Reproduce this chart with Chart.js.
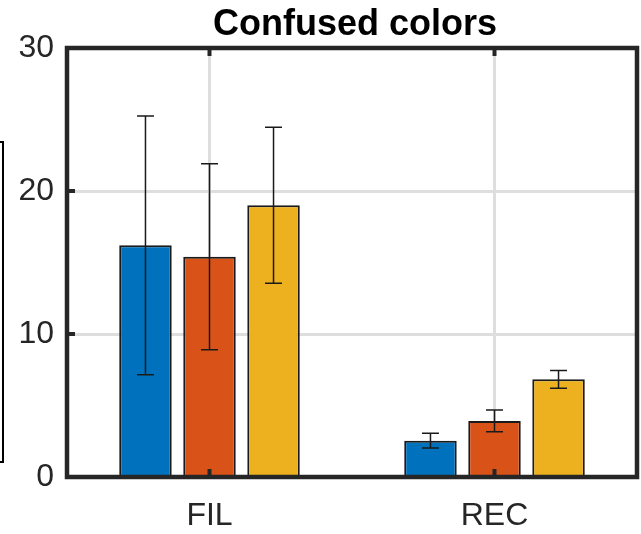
<!DOCTYPE html>
<html>
<head>
<meta charset="utf-8">
<script src="https://cdn.jsdelivr.net/npm/chart.js@4"></script>
<style>
    body { margin: 0; background: #fff; }
    #wrap { position: relative; width: 641px; height: 534px; }
    #bracket {
        position: absolute; left: 0; top: 141px; width: 2px; height: 318px;
        border: 2px solid #000; border-left: none;
    }
</style>
</head>
<body>
<div id="wrap">
    <canvas id="chart" width="641" height="534"></canvas>
    <div id="bracket"></div>
</div>
<script>
const categories = ['FIL', 'REC'];
const seriesColors = ['#0072BD', '#D95319', '#EDB120'];
const blueValues = [16.2, 2.54];
const orangeValues = [15.4, 3.92];
const yellowValues = [19.0, 6.83];
const blueErrors = [9.05, 0.52];
const orangeErrors = [6.5, 0.76];
const yellowErrors = [5.45, 0.62];
const yTicks = [0, 10, 20, 30];
const titleText = 'Confused colors';

const allValues = [blueValues, orangeValues, yellowValues];
const allErrors = [blueErrors, orangeErrors, yellowErrors];
const fontFamily = 'Liberation Sans, Arial, sans-serif';

// 誤差棒
const errorBarPlugin = {
    id: 'errorBars',
    afterDatasetsDraw(chart) {
        const ctx = chart.ctx;
        const yScale = chart.scales.y;
        ctx.save();
        ctx.strokeStyle = '#1a1a1a';
        ctx.lineWidth = 1.5;
        chart.data.datasets.forEach((ds, i) => {
            const meta = chart.getDatasetMeta(i);
            meta.data.forEach((bar, j) => {
                const v = ds.data[j];
                const e = allErrors[i][j];
                const top = yScale.getPixelForValue(v + e);
                const bot = yScale.getPixelForValue(v - e);
                const half = 8.5;
                ctx.beginPath();
                ctx.moveTo(bar.x, top); ctx.lineTo(bar.x, bot);
                ctx.moveTo(bar.x - half, top); ctx.lineTo(bar.x + half, top);
                ctx.moveTo(bar.x - half, bot); ctx.lineTo(bar.x + half, bot);
                ctx.stroke();
            });
        });
        ctx.restore();
    }
};

// 軸の枠、内向きの目盛り、タイトル
const boxPlugin = {
    id: 'axisBox',
    afterDraw(chart) {
        const ctx = chart.ctx;
        const a = chart.chartArea;
        ctx.save();
        ctx.strokeStyle = '#262626';
        ctx.lineWidth = 4.5;
        ctx.strokeRect(a.left, a.top, a.right - a.left, a.bottom - a.top);
        ctx.lineWidth = 4;
        chart.scales.y.ticks.forEach(t => {
            const y = chart.scales.y.getPixelForValue(t.value);
            ctx.beginPath();
            ctx.moveTo(a.left, y); ctx.lineTo(a.left + 8, y);
            ctx.stroke();
        });
        chart.scales.x.ticks.forEach((t, i) => {
            const x = chart.scales.x.getPixelForTick(i);
            ctx.beginPath();
            ctx.moveTo(x, a.bottom); ctx.lineTo(x, a.bottom - 8);
            ctx.moveTo(x, a.top); ctx.lineTo(x, a.top + 8);
            ctx.stroke();
        });
        ctx.fillStyle = '#000';
        ctx.font = 'bold 36px ' + fontFamily;
        ctx.textAlign = 'center';
        ctx.textBaseline = 'alphabetic';
        ctx.fillText(titleText, (a.left + a.right) / 2 + 3, 35);
        ctx.restore();
    }
};

const ctx = document.getElementById('chart').getContext('2d');
new Chart(ctx, {
    type: 'bar',
    data: {
        labels: categories,
        datasets: allValues.map((vals, i) => ({
            data: vals,
            backgroundColor: seriesColors[i],
            borderColor: '#1a1a1a',
            borderWidth: 2,
            categoryPercentage: 0.674,
            barPercentage: 0.82
        }))
    },
    options: {
        responsive: false,
        animation: false,
        layout: { padding: { left: 0, right: 4, top: 48, bottom: 0 } },
        plugins: {
            legend: { display: false },
            tooltip: { enabled: false },
            title: { display: false }
        },
        scales: {
            x: {
                grid: { offset: false, color: '#dedede', lineWidth: 3, drawTicks: false },
                border: { display: false },
                ticks: {
                    color: '#262626',
                    padding: 20,
                    font: { family: fontFamily, size: 32 }
                },
                afterFit(scale) { scale.height = 57; }
            },
            y: {
                min: 0,
                max: 30,
                afterBuildTicks(scale) { scale.ticks = yTicks.map(v => ({ value: v })); },
                grid: { color: '#dedede', lineWidth: 3, drawTicks: false },
                border: { display: false },
                ticks: {
                    color: '#262626',
                    padding: 13,
                    font: { family: fontFamily, size: 32 }
                },
                afterFit(scale) { scale.width = 67; }
            }
        }
    },
    plugins: [errorBarPlugin, boxPlugin]
});
</script>
</body>
</html>
